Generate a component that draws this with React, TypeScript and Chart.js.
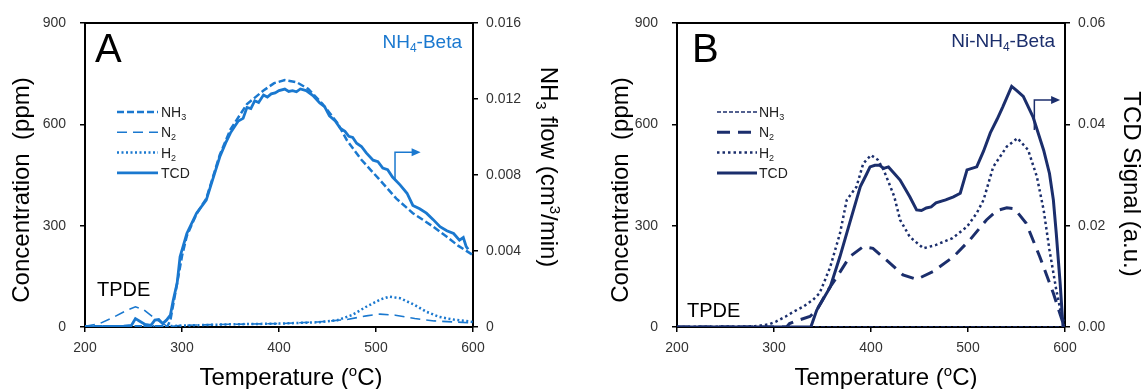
import React, { useEffect, useRef } from "react";
import { Chart, registerables } from "chart.js";

Chart.register(...registerables);

const FONT = "'Liberation Sans', Arial, Helvetica, sans-serif";
const BLUE = "#1a78cf";
const NAVY = "#1b2e6c";

// ---------- axis ticks ----------
const xTickValues = [200, 300, 400, 500, 600];
const concTickValues = [0, 300, 600, 900];
const flowTickValues = [0, 0.004, 0.008, 0.012, 0.016];
const tcdTickValues = [0, 0.02, 0.04, 0.06];

// ---------- Panel A : NH4-Beta ----------
const tempA_NH3 = [200, 250, 285, 288, 295, 300, 305, 315, 325, 339, 350, 367, 384, 395, 406, 418, 430, 445, 460, 470, 485, 504, 521, 538, 559, 573, 585, 600];
const concA_NH3 = [2, 2, 2, 20, 130, 210, 270, 335, 380, 510, 585, 660, 700, 722, 731, 725, 705, 660, 605, 553, 495, 435, 380, 337, 297, 267, 240, 213];

const tempA_N2 = [200, 215, 230, 245, 252, 260, 270, 280, 285, 290, 300, 350, 400, 440, 470, 490, 504, 520, 540, 560, 580, 600];
const concA_N2 = [2, 10, 30, 52, 60, 52, 30, 10, 3, 2, 5, 8, 10, 15, 22, 33, 38, 35, 25, 18, 15, 12];

const tempA_H2 = [200, 280, 300, 350, 400, 440, 460, 475, 490, 505, 514, 525, 540, 552, 565, 580, 600];
const concA_H2 = [2, 2, 4, 8, 10, 14, 20, 35, 60, 82, 90, 85, 65, 45, 30, 22, 15];

const tempA_TCD = [200, 240, 248, 252, 256, 262, 268, 272, 276, 280, 284, 288, 291, 295, 298, 305, 315, 325, 332, 339, 345, 350, 358, 363, 367, 371, 375, 379, 384, 388, 392, 396, 400, 406, 410, 414, 418, 422, 428, 435, 442, 447, 452, 458, 463, 468, 472, 476, 480, 485, 490, 497, 502, 507, 512, 517, 525, 532, 538, 545, 552, 559, 566, 573, 580, 586, 590, 593, 595];
const flowA_TCD = [0, 0.00004, 0.00009, 0.00044, 0.00032, 0.00014, 0.00009, 0.00036, 0.00039, 0.00018, 0.00036, 0.00062, 0.00142, 0.00231, 0.0037, 0.00492, 0.00599, 0.00668, 0.00782, 0.00896, 0.00969, 0.01022, 0.01084, 0.01098, 0.01156, 0.01150, 0.01191, 0.01182, 0.01221, 0.01210, 0.01227, 0.01232, 0.01244, 0.01252, 0.01240, 0.01244, 0.01238, 0.01253, 0.01244, 0.01218, 0.01179, 0.01160, 0.01111, 0.01085, 0.01047, 0.01030, 0.01004, 0.00998, 0.00967, 0.00950, 0.00916, 0.00878, 0.00870, 0.00836, 0.00828, 0.00789, 0.00747, 0.00704, 0.0064, 0.00622, 0.00599, 0.00565, 0.00528, 0.00507, 0.00492, 0.00457, 0.00471, 0.00423, 0.00409];

// ---------- Panel B : Ni-NH4-Beta ----------
const tempB_NH3 = [200, 300, 400, 500, 600];
const concB_NH3 = [0, 0, 0, 0, 0];

const tempB_N2 = [200, 313, 316, 325, 337, 344, 350, 357, 365, 378, 392, 402, 416, 433, 447, 464, 485, 502, 519, 530, 540, 548, 560, 574, 588, 597, 600];
const concB_N2 = [0, 0, 10, 20, 31, 50, 80, 115, 149, 208, 238, 233, 198, 154, 141, 164, 208, 258, 317, 345, 353, 350, 307, 208, 100, 20, 0];

const tempB_H2 = [200, 280, 295, 302, 312, 320, 330, 340, 347, 352, 358, 368, 375, 385, 392, 400, 407, 413, 418, 424, 430, 440, 454, 467, 484, 499, 509, 516, 526, 540, 551, 562, 571, 578, 584, 591, 596, 600];
const concB_H2 = [0, 2, 8, 16, 31, 45, 60, 80, 100, 135, 178, 277, 376, 415, 484, 509, 495, 465, 430, 386, 317, 267, 233, 243, 263, 297, 337, 376, 474, 534, 559, 524, 445, 346, 228, 110, 40, 5];

const tempB_TCD = [200, 338, 344, 350, 358, 368, 378, 385, 389, 395, 399, 404, 409, 413, 418, 424, 430, 440, 447, 452, 457, 462, 467, 477, 485, 492, 499, 509, 516, 523, 530, 536, 545, 550, 557, 567, 578, 584, 588, 591, 595, 598, 600];
const signalB_TCD = [0, 0, 0.0033, 0.0053, 0.0079, 0.0139, 0.0205, 0.0251, 0.0277, 0.03, 0.0316, 0.0319, 0.0319, 0.0313, 0.0316, 0.0303, 0.029, 0.0257, 0.0231, 0.023, 0.0235, 0.0237, 0.0245, 0.0251, 0.0257, 0.0264, 0.031, 0.0316, 0.0347, 0.0383, 0.041, 0.0435, 0.0475, 0.0467, 0.0455, 0.0415, 0.0349, 0.0303, 0.0251, 0.0185, 0.0086, 0, 0];

// ---------- rich text helpers ----------
const SUB: Record<string, string> = { "₀": "0", "₁": "1", "₂": "2", "₃": "3", "₄": "4", "₅": "5", "₆": "6", "₇": "7", "₈": "8", "₉": "9" };
const SUP: Record<string, string> = { "³": "3", "²": "2", "ᵒ": "o" };
type Part = { t: string; s: "" | "sub" | "sup" };
function parse(text: string): Part[] {
  const parts: Part[] = [];
  for (const ch of text) {
    let s: Part["s"] = "";
    let t = ch;
    if (SUB[ch]) { s = "sub"; t = SUB[ch]; }
    else if (SUP[ch]) { s = "sup"; t = SUP[ch]; }
    const last = parts[parts.length - 1];
    if (last && last.s === s) last.t += t; else parts.push({ t, s });
  }
  return parts;
}
function fontFor(p: Part, size: number) {
  return `${p.s ? Math.round(size * 0.64) : size}px ${FONT}`;
}
function richWidth(ctx: CanvasRenderingContext2D, parts: Part[], size: number) {
  let w = 0;
  for (const p of parts) { ctx.font = fontFor(p, size); w += ctx.measureText(p.t).width; }
  return w;
}
function drawRich(ctx: CanvasRenderingContext2D, text: string, x: number, y: number, size: number, align: "left" | "right" | "center", color: string) {
  const parts = parse(text);
  const w = richWidth(ctx, parts, size);
  let cx = align === "left" ? x : align === "right" ? x - w : x - w / 2;
  ctx.fillStyle = color;
  ctx.textAlign = "left";
  ctx.textBaseline = "alphabetic";
  for (const p of parts) {
    ctx.font = fontFor(p, size);
    const dy = p.s === "sub" ? size * 0.22 : p.s === "sup" ? -size * 0.38 : 0;
    ctx.fillText(p.t, cx, y + dy);
    cx += ctx.measureText(p.t).width;
  }
}
function drawRotated(ctx: CanvasRenderingContext2D, text: string, cx: number, cy: number, size: number, dir: -1 | 1) {
  ctx.save();
  ctx.translate(cx, cy);
  ctx.rotate((dir * Math.PI) / 2);
  drawRich(ctx, text, 0, size * 0.36, size, "center", "#000");
  ctx.restore();
}

// ---------- panel specs ----------
type Series = { label: string; temps: number[]; values: number[]; axis: "y" | "y2"; dash: number[]; width: number };
type Spec = {
  width: number; leftW: number; rightW: number; color: string;
  rightTicks: number[]; rightMax: number; rightFmt: (v: number) => string;
  series: Series[];
  letter: string; letterX: number; name: string; nameX: number; nameY: number;
  tpdeX: number; tpdeY: number;
  legX0: number; legX1: number; legTX: number; legY: number; legGap: number;
  lTitle: string; lTitleX: number; lTitleY: number; rTitle: string; rTitleX: number; rTitleY: number;
  xTitle: string; xTitleX: number;
  arrowT: number; arrowV0: number; arrowV1: number; arrowT2: number;
};

const specA: Spec = {
  width: 580, leftW: 85, rightW: 107, color: BLUE,
  rightTicks: flowTickValues, rightMax: 0.016, rightFmt: (v) => (v === 0 ? "0" : v.toFixed(3)),
  series: [
    { label: "NH₃", temps: tempA_NH3, values: concA_NH3, axis: "y", dash: [7, 3], width: 2.5 },
    { label: "N₂", temps: tempA_N2, values: concA_N2, axis: "y", dash: [10, 6], width: 1.6 },
    { label: "H₂", temps: tempA_H2, values: concA_H2, axis: "y", dash: [2, 2.5], width: 2.5 },
    { label: "TCD", temps: tempA_TCD, values: flowA_TCD, axis: "y2", dash: [], width: 2.8 },
  ],
  letter: "A", letterX: 95, name: "NH₄-Beta", nameX: 462, nameY: 48,
  tpdeX: 97, tpdeY: 296,
  legX0: 117, legX1: 158, legTX: 161, legY: 112, legGap: 20.3,
  lTitle: "Concentration  (ppm)", lTitleX: 20, lTitleY: 190, rTitle: "NH₃ flow (cm³/min)", rTitleX: 550, rTitleY: 167,
  xTitle: "Temperature (ᵒC)", xTitleX: 291,
  arrowT: 519.6, arrowV0: 0.0077, arrowV1: 0.0092, arrowT2: 546,
};

const specB: Spec = {
  width: 563, leftW: 97, rightW: 78, color: NAVY,
  rightTicks: tcdTickValues, rightMax: 0.06, rightFmt: (v) => v.toFixed(2),
  series: [
    { label: "NH₃", temps: tempB_NH3, values: concB_NH3, axis: "y", dash: [4, 2], width: 1.4 },
    { label: "N₂", temps: tempB_N2, values: concB_N2, axis: "y", dash: [13, 8], width: 3 },
    { label: "H₂", temps: tempB_H2, values: concB_H2, axis: "y", dash: [2.5, 3], width: 2.5 },
    { label: "TCD", temps: tempB_TCD, values: signalB_TCD, axis: "y2", dash: [], width: 3 },
  ],
  letter: "B", letterX: 112, name: "Ni-NH₄-Beta", nameX: 475, nameY: 47,
  tpdeX: 107, tpdeY: 317,
  legX0: 137, legX1: 177, legTX: 179, legY: 112, legGap: 20.3,
  lTitle: "Concentration  (ppm)", lTitleX: 39, lTitleY: 190, rTitle: "TCD Signal (a.u.)", rTitleX: 553, rTitleY: 184,
  xTitle: "Temperature (ᵒC)", xTitleX: 306,
  arrowT: 568.4, arrowV0: 0.0389, arrowV1: 0.0448, arrowT2: 595,
};

function makeDecor(spec: Spec) {
  return {
    id: "decor" + spec.letter,
    afterDraw(chart: any) {
      const { ctx, chartArea: ca } = chart;
      const xs = chart.scales.x;
      const y2 = chart.scales.y2;
      ctx.save();
      // top frame line
      ctx.strokeStyle = "#000";
      ctx.lineWidth = 2;
      ctx.setLineDash([]);
      ctx.beginPath();
      ctx.moveTo(ca.left - 1, ca.top);
      ctx.lineTo(ca.right + 1, ca.top);
      ctx.stroke();

      // legend
      chart.data.datasets.forEach((ds: any, i: number) => {
        const y = spec.legY + i * spec.legGap;
        ctx.strokeStyle = ds.borderColor;
        ctx.lineWidth = ds.borderWidth;
        ctx.setLineDash(ds.borderDash || []);
        ctx.beginPath();
        ctx.moveTo(spec.legX0, y);
        ctx.lineTo(spec.legX1, y);
        ctx.stroke();
        ctx.setLineDash([]);
        drawRich(ctx, ds.label, spec.legTX, y + 5, 14, "left", "#222");
      });

      // panel letter, name, TPDE
      drawRich(ctx, spec.letter, spec.letterX, 62, 40, "left", "#000");
      drawRich(ctx, spec.name, spec.nameX, spec.nameY, 19, "right", spec.color);
      drawRich(ctx, "TPDE", spec.tpdeX, spec.tpdeY, 20, "left", "#000");

      // arrow pointing to the right-hand axis
      const ax = xs.getPixelForValue(spec.arrowT);
      const ay0 = y2.getPixelForValue(spec.arrowV0);
      const ay1 = y2.getPixelForValue(spec.arrowV1);
      const ax2 = xs.getPixelForValue(spec.arrowT2);
      ctx.strokeStyle = spec.color;
      ctx.fillStyle = spec.color;
      ctx.lineWidth = 1.5;
      ctx.beginPath();
      ctx.moveTo(ax, ay0);
      ctx.lineTo(ax, ay1);
      ctx.lineTo(ax2 - 8, ay1);
      ctx.stroke();
      ctx.beginPath();
      ctx.moveTo(ax2, ay1);
      ctx.lineTo(ax2 - 9, ay1 - 4);
      ctx.lineTo(ax2 - 9, ay1 + 4);
      ctx.closePath();
      ctx.fill();

      // axis titles
      drawRotated(ctx, spec.lTitle, spec.lTitleX, spec.lTitleY, 24, -1);
      drawRotated(ctx, spec.rTitle, spec.rTitleX, spec.rTitleY, 24, 1);
      drawRich(ctx, spec.xTitle, spec.xTitleX, 385, 24, "center", "#000");
      ctx.restore();
    },
  };
}

function buildChart(canvas: HTMLCanvasElement, spec: Spec) {
  const tickFont = { family: FONT, size: 14 };
  const grid = { display: true, drawOnChartArea: false, drawTicks: true, tickLength: 5, color: "#000", lineWidth: 1.5 };
  const border = { display: true, color: "#000", width: 2 };
  return new Chart(canvas, {
    type: "line",
    data: {
      datasets: spec.series.map((s) => ({
        label: s.label,
        data: s.temps.map((t, i) => ({ x: t, y: s.values[i] })),
        yAxisID: s.axis,
        borderColor: spec.color,
        backgroundColor: spec.color,
        borderWidth: s.width,
        borderDash: s.dash,
        pointRadius: 0,
        fill: false,
        tension: 0,
      })),
    },
    options: {
      responsive: false,
      maintainAspectRatio: false,
      animation: false,
      devicePixelRatio: 1,
      layout: { padding: { top: 23, left: 0, right: 0, bottom: 0 } },
      plugins: { legend: { display: false }, tooltip: { enabled: false } },
      scales: {
        x: {
          type: "linear", min: 200, max: 600,
          afterBuildTicks: (s: any) => { s.ticks = xTickValues.map((v) => ({ value: v })); },
          afterFit: (s: any) => { s.height = 62; },
          ticks: { font: tickFont, color: "#333", padding: 8, maxRotation: 0, autoSkip: false },
          grid, border,
        },
        y: {
          type: "linear", position: "left", min: 0, max: 900,
          afterBuildTicks: (s: any) => { s.ticks = concTickValues.map((v) => ({ value: v })); },
          afterFit: (s: any) => { s.width = spec.leftW; },
          ticks: { font: tickFont, color: "#333", padding: 14 },
          grid, border,
        },
        y2: {
          type: "linear", position: "right", min: 0, max: spec.rightMax,
          afterBuildTicks: (s: any) => { s.ticks = spec.rightTicks.map((v) => ({ value: v })); },
          afterFit: (s: any) => { s.width = spec.rightW; },
          ticks: { font: tickFont, color: "#333", padding: 8, callback: (v: any) => spec.rightFmt(Number(v)) },
          grid, border,
        },
      },
    } as any,
    plugins: [makeDecor(spec)],
  });
}

function Panel({ spec, left }: { spec: Spec; left: number }) {
  const ref = useRef<HTMLCanvasElement>(null);
  useEffect(() => {
    const chart = buildChart(ref.current as HTMLCanvasElement, spec);
    return () => chart.destroy();
  }, []);
  return (
    <canvas
      ref={ref}
      width={spec.width}
      height={389}
      style={{ position: "absolute", left, top: 0, width: spec.width, height: 389 }}
    />
  );
}

export default function App() {
  return (
    <div style={{ position: "absolute", left: 0, top: 0, width: 1143, height: 389, background: "#fff", overflow: "hidden" }}>
      <Panel spec={specA} left={0} />
      <Panel spec={specB} left={580} />
    </div>
  );
}
